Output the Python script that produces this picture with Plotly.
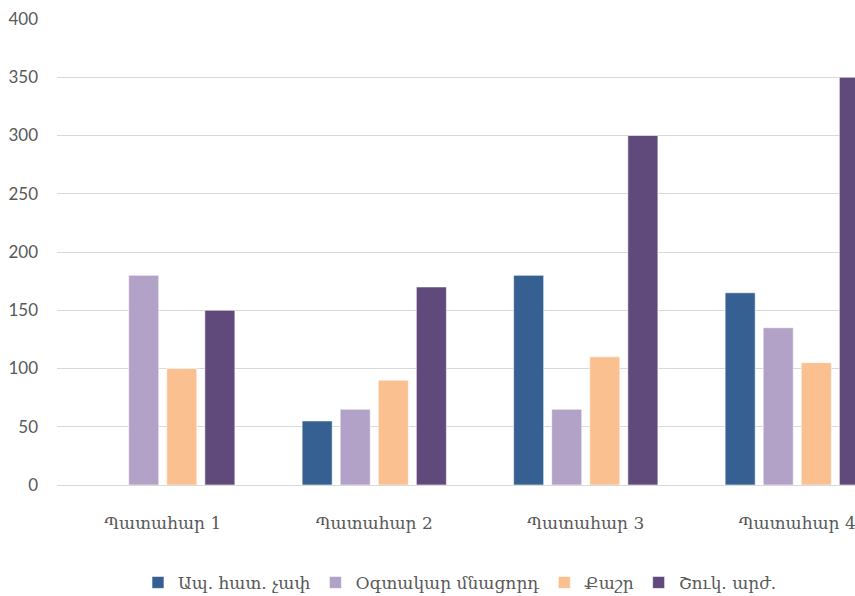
import plotly.graph_objects as go

categories = ["Պատահար 1", "Պատահար 2", "Պատահար 3", "Պատահար 4"]
series_names = ["Ապ. հատ. չափ", "Օգտակար մնացորդ", "Քաշր", "Շուկ. արժ."]
series_values = [
    [0, 55, 180, 165],
    [180, 65, 65, 135],
    [100, 90, 110, 105],
    [150, 170, 300, 350],
]
colors = ["#366092", "#B3A2C7", "#FAC090", "#604A7B"]
y_ticks = [0, 50, 100, 150, 200, 250, 300, 350, 400]

fig = go.Figure()
for name, vals, col in zip(series_names, series_values, colors):
    fig.add_trace(go.Bar(
        x=categories, y=vals, name=name,
        marker=dict(color=col, line=dict(color="rgba(255,255,255,0.6)", width=1)),
    ))

fig.update_layout(
    width=855, height=596,
    margin=dict(l=57, r=0, t=19, b=111, autoexpand=False),
    paper_bgcolor="white", plot_bgcolor="white",
    barmode="group", bargap=0.28, bargroupgap=0.21,
    font=dict(family="DejaVu Serif", color="#595959"),
    showlegend=True,
    legend=dict(orientation="h", x=0.505, xanchor="center",
                yref="container", y=0.022, yanchor="middle",
                font=dict(family="DejaVu Serif", size=17, color="#595959"),
                itemwidth=30, traceorder="normal"),
    xaxis=dict(range=[-0.5, 3.273], showgrid=False, showline=False, ticks="",
               tickfont=dict(family="DejaVu Serif", size=17, color="#595959"),
               ticklabelstandoff=26),
    yaxis=dict(range=[0, 400], tickvals=y_ticks, showgrid=True, gridcolor="#D9D9D9",
               gridwidth=1, zeroline=True, zerolinecolor="#D9D9D9", zerolinewidth=1,
               showline=False, ticks="",
               tickfont=dict(family="Lato", size=17, color="#595959"),
               ticklabelstandoff=18),
)

fig.write_html("out.html")
